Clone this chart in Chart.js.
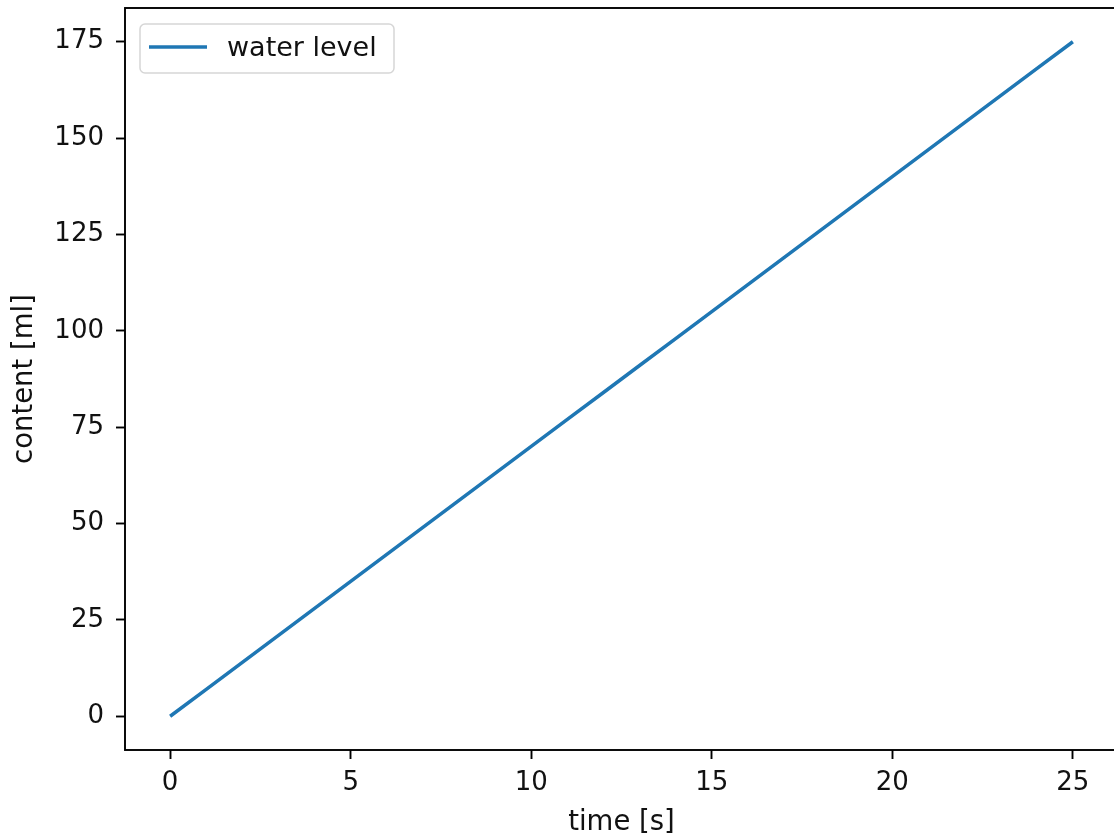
<!DOCTYPE html>
<html>
<head>
<meta charset="utf-8">
<script src="https://cdn.jsdelivr.net/npm/chart.js@4"></script>
<style>
    html, body { margin: 0; padding: 0; background: #fff; overflow: hidden; }
    #chart { display: block; }
</style>
</head>
<body>
<canvas id="chart" width="1118" height="836"></canvas>
<script>
// time in seconds and measured content in ml
const timeSeconds = [0, 1, 2, 3, 4, 5, 6, 7, 8, 9, 10, 11, 12, 13, 14, 15, 16, 17, 18, 19, 20, 21, 22, 23, 24, 25];
const contentMl = [0, 7, 14, 21, 28, 35, 42, 49, 56, 63, 70, 77, 84, 91, 98, 105, 112, 119, 126, 133, 140, 147, 154, 161, 168, 175];
const xTickValues = [0, 5, 10, 15, 20, 25];
const yTickValues = [0, 25, 50, 75, 100, 125, 150, 175];
const seriesLabel = 'water level';

const FONT = 'DejaVu Sans';
const TEXT = '#111';
const lineColor = '#1f77b4';

// matplotlib style frame and legend box
const frameAndLegend = {
    id: 'frameAndLegend',
    afterDatasetsDraw(chart) {
        const { ctx, chartArea } = chart;
        ctx.save();
        ctx.strokeStyle = '#000';
        ctx.lineWidth = 1.9;
        ctx.strokeRect(chartArea.left, chartArea.top, chartArea.right - chartArea.left, chartArea.bottom - chartArea.top);

        const x = 140, y = 24, w = 254, h = 49, r = 5;
        ctx.beginPath();
        ctx.roundRect(x, y, w, h, r);
        ctx.fillStyle = 'rgba(255,255,255,0.8)';
        ctx.fill();
        ctx.strokeStyle = '#d6d6d6';
        ctx.lineWidth = 1.5;
        ctx.stroke();

        const ds = chart.data.datasets[0];
        ctx.beginPath();
        ctx.moveTo(149, 47);
        ctx.lineTo(207, 47);
        ctx.strokeStyle = ds.borderColor;
        ctx.lineWidth = ds.borderWidth;
        ctx.stroke();

        ctx.fillStyle = TEXT;
        ctx.font = '27px "' + FONT + '"';
        ctx.textBaseline = 'middle';
        ctx.textAlign = 'left';
        ctx.fillText(ds.label, 227, 49);
        ctx.restore();
    }
};

const ctx = document.getElementById('chart').getContext('2d');
new Chart(ctx, {
    type: 'line',
    data: {
        datasets: [{
            label: seriesLabel,
            data: timeSeconds.map((t, i) => ({ x: t, y: contentMl[i] })),
            borderColor: lineColor,
            backgroundColor: lineColor,
            borderWidth: 3.5,
            pointRadius: 0,
            tension: 0
        }]
    },
    options: {
        responsive: false,
        animation: false,
        layout: { padding: { top: 8, right: 0, left: 0, bottom: 0 } },
        plugins: {
            legend: { display: false },
            tooltip: { enabled: false }
        },
        scales: {
            x: {
                type: 'linear',
                min: -1.25,
                max: 26.25,
                afterBuildTicks: scale => { scale.ticks = xTickValues.map(v => ({ value: v })); },
                afterFit: scale => {
                    scale.height = 86;
                    scale.paddingLeft = 0;
                    scale.paddingRight = 0;
                },
                grid: {
                    drawOnChartArea: false,
                    tickLength: 9,
                    tickWidth: 1.9,
                    tickColor: '#000'
                },
                border: { display: false },
                ticks: {
                    color: TEXT,
                    padding: 9,
                    font: { family: FONT, size: 26 },
                    maxRotation: 0
                },
                title: {
                    display: true,
                    text: 'time [s]',
                    color: TEXT,
                    font: { family: FONT, size: 27.5 },
                    padding: { top: 0, bottom: -3 }
                }
            },
            y: {
                type: 'linear',
                min: -8.75,
                max: 183.75,
                afterBuildTicks: scale => { scale.ticks = yTickValues.map(v => ({ value: v })); },
                afterFit: scale => {
                    scale.width = 125;
                    scale.paddingTop = 0;
                    scale.paddingBottom = 0;
                },
                grid: {
                    drawOnChartArea: false,
                    tickLength: 9,
                    tickWidth: 1.9,
                    tickColor: '#000'
                },
                border: { display: false },
                ticks: {
                    color: TEXT,
                    padding: 12,
                    font: { family: FONT, size: 26 }
                },
                title: {
                    display: true,
                    text: 'content [ml]',
                    color: TEXT,
                    font: { family: FONT, size: 27.5 },
                    padding: { top: 8, bottom: 0 }
                }
            }
        }
    },
    plugins: [frameAndLegend]
});
</script>
</body>
</html>
